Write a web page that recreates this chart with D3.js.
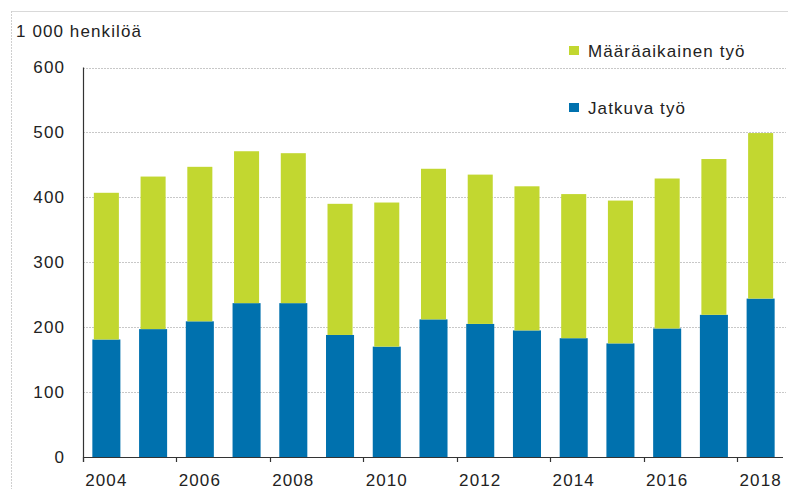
<!DOCTYPE html>
<meta charset="utf-8">
<script src="https://d3js.org/d3.v7.min.js"></script>
<style>
    body { margin: 0; background: #fff; }
    text { font-family: "Liberation Sans", Arial, sans-serif; font-size: 17px; letter-spacing: 1.1px; fill: #222; }
</style>
<div id="chart"></div>
<script>
    // data (1 000 persons)
    var years = ["2004","2005","2006","2007","2008","2009","2010","2011","2012","2013","2014","2015","2016","2017","2018"];
    var jatkuva = [181, 197, 209, 237, 237, 188, 170, 212, 205, 195, 183, 175, 198, 219, 244];
    var maaraaikainen = [226, 235, 238, 234, 231, 202, 222, 232, 230, 222, 222, 220, 231, 240, 255];
    var yTicks = [0, 100, 200, 300, 400, 500, 600];
    var labelYears = ["2004","2006","2008","2010","2012","2014","2016","2018"];

    var keys = ["jatkuva", "maaraaikainen"];
    var names = {jatkuva: "Jatkuva työ", maaraaikainen: "Määräaikainen työ"};
    var color = {jatkuva: "#0071ae", maaraaikainen: "#c2d730"};

    var width = 788, height = 489;
    var plotLeft = 83, plotRight = 784, plotTop = 67.5, plotBottom = 457;

    var svg = d3.select("#chart")
        .append("svg")
        .attr("width", width)
        .attr("height", height);

    // frame (top and left only, image is cropped)
    svg.append("line")
        .attr("x1", 11).attr("x2", width).attr("y1", 11.5).attr("y2", 11.5)
        .style("stroke", "#d9d9d9");
    svg.append("line")
        .attr("x1", 11.5).attr("x2", 11.5).attr("y1", 11).attr("y2", height)
        .style("stroke", "#cfcfcf").style("stroke-dasharray", "2,1");

    var data = years.map(function(y, i) {
        return {year: y, jatkuva: jatkuva[i], maaraaikainen: maaraaikainen[i]};
    });

    var x = d3.scaleBand()
        .domain(years)
        .range([plotLeft, plotRight])
        .paddingInner(0.4)
        .paddingOuter(0.2);

    var y = d3.scaleLinear()
        .domain([0, 600])
        .range([plotBottom, plotTop]);

    // gridlines
    svg.selectAll("line.grid")
        .data(yTicks.slice(1))
        .enter()
        .append("line")
        .attr("class", "grid")
        .attr("x1", plotLeft).attr("x2", 786)
        .attr("y1", function(d) { return Math.round(y(d)) + 0.5; })
        .attr("y2", function(d) { return Math.round(y(d)) + 0.5; })
        .style("stroke", "#c8c8c8")
        .style("stroke-dasharray", "2,1");

    // stacked bars
    var stackedData = d3.stack().keys(keys)(data);
    svg.selectAll("g.layer")
        .data(stackedData)
        .enter()
        .append("g")
        .attr("class", "layer")
        .style("fill", function(d) { return color[d.key]; })
        .selectAll("rect")
        .data(function(d) { return d.map(function(p) { p.key = d.key; return p; }); })
        .enter()
        .append("rect")
        .attr("x", function(d) { return x(d.data.year) + (d.key == "maaraaikainen" ? 1.5 : 0); })
        .attr("width", function(d) { return x.bandwidth() - (d.key == "maaraaikainen" ? 3 : 0); })
        .attr("y", function(d) { return y(d[1]); })
        .attr("height", function(d) { return y(d[0]) - y(d[1]); });

    // y axis labels
    var yAxis = svg.append("g")
        .attr("transform", "translate(" + plotLeft + ",0)")
        .call(d3.axisLeft(y).tickValues(yTicks).tickSize(0).tickPadding(18));
    yAxis.select(".domain").remove();
    yAxis.attr("font-family", null).attr("font-size", null);

    // axis lines
    svg.append("line")
        .attr("x1", plotLeft + 0.5).attr("x2", plotLeft + 0.5).attr("y1", plotTop).attr("y2", plotBottom + 5)
        .style("stroke", "#333").style("stroke-width", 1.2);
    svg.append("line")
        .attr("x1", plotLeft).attr("x2", plotRight - 1).attr("y1", plotBottom + 0.5).attr("y2", plotBottom + 0.5)
        .style("stroke", "#333").style("stroke-width", 1.2);

    // x ticks at the left edge of every other year
    var gap = x.step() - x.bandwidth();
    svg.selectAll("line.xtick")
        .data(labelYears)
        .enter()
        .append("line")
        .attr("class", "xtick")
        .attr("x1", function(d) { return Math.round(x(d) - gap / 2) + 0.5; })
        .attr("x2", function(d) { return Math.round(x(d) - gap / 2) + 0.5; })
        .attr("y1", plotBottom).attr("y2", plotBottom + 5)
        .style("stroke", "#333").style("stroke-width", 1.2);

    // x labels
    var xAxis = svg.append("g")
        .attr("transform", "translate(0," + plotBottom + ")")
        .call(d3.axisBottom(x).tickValues(labelYears).tickSize(0).tickPadding(17));
    xAxis.select(".domain").remove();
    xAxis.attr("font-family", null).attr("font-size", null);

    // unit title
    svg.append("text")
        .attr("x", 16).attr("y", 37)
        .text("1 000 henkilöä");

    // legend
    var legendKeys = ["maaraaikainen", "jatkuva"];
    var legend = svg.selectAll("g.legend")
        .data(legendKeys)
        .enter()
        .append("g")
        .attr("class", "legend")
        .attr("transform", function(d, i) { return "translate(569," + (46 + i * 57) + ")"; });
    legend.append("rect")
        .attr("width", 10).attr("height", 9)
        .style("fill", function(d) { return color[d]; });
    legend.append("text")
        .attr("x", 19).attr("y", 10.5)
        .text(function(d) { return names[d]; });
</script>
